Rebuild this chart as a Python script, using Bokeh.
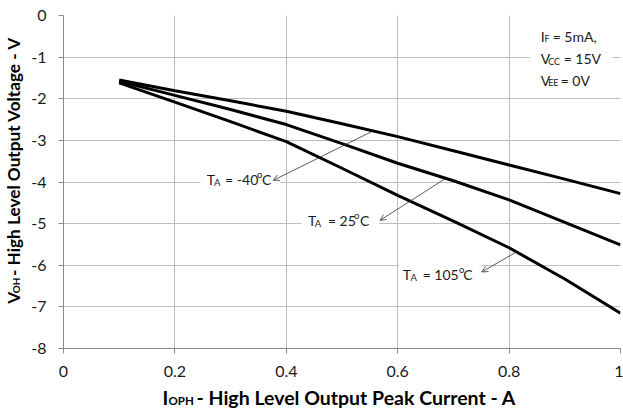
import math
from bokeh.plotting import figure
from bokeh.layouts import column, row
from bokeh.models import Range1d, FixedTicker, Label, Arrow, OpenHead
from bokeh.embed import file_html
from bokeh.resources import INLINE

# ---------------- data ----------------
current_a = [0.1, 0.2, 0.3, 0.4, 0.5, 0.6, 0.7, 0.8, 0.9, 1.0]
voh_m40 = [-1.55, -1.81, -2.05, -2.30, -2.60, -2.91, -3.25, -3.59, -3.93, -4.28]
voh_25 = [-1.58, -1.92, -2.26, -2.62, -3.08, -3.55, -3.97, -4.43, -4.97, -5.51]
voh_105 = [-1.62, -2.08, -2.55, -3.03, -3.67, -4.32, -4.94, -5.58, -6.33, -7.15]

x_ticks = [0, 0.2, 0.4, 0.6, 0.8, 1]
x_tick_labels = ["0", "0.2", "0.4", "0.6", "0.8", "1"]
y_ticks = [-8, -7, -6, -5, -4, -3, -2, -1, 0]
y_tick_labels = ["-8", "-7", "-6", "-5", "-4", "-3", "-2", "-1", "0"]

FONT = "Lato"
GRID = "#bdbdbd"
AXIS = "#8a8a8a"
TXT = "#1a1a1a"

# ---------------- layout sizes ----------------
TOTAL_W, TOTAL_H = 623, 412
YT_W = 28            # strip for the y-axis title
MAIN_H = 386         # main figure height
MAIN_W = TOTAL_W - YT_W
XT_H = TOTAL_H - MAIN_H
BL, BR, BT, BB = 34, 3, 15, 38
SHIFT = 6.0          # labels render a little below their alphabetic anchor

p = figure(width=MAIN_W, height=MAIN_H, output_backend="svg", toolbar_location=None,
           x_range=Range1d(0, 1), y_range=Range1d(-8, 0),
           min_border_left=BL, min_border_right=BR, min_border_top=BT, min_border_bottom=BB)
p.title = None
p.outline_line_color = None
p.background_fill_color = "white"
p.border_fill_color = "white"

for ax, ticks, labels in ((p.xaxis, x_ticks, x_tick_labels), (p.yaxis, y_ticks, y_tick_labels)):
    ax.ticker = FixedTicker(ticks=ticks)
    ax.major_label_overrides = dict(zip(ticks, labels))
    ax.axis_line_color = AXIS
    ax.major_tick_line_color = AXIS
    ax.minor_tick_line_color = None
    ax.major_tick_in = 0
    ax.major_tick_out = 5
    ax.major_label_text_font = FONT
    ax.major_label_text_font_size = "16px"
    ax.major_label_text_color = TXT
p.xaxis.major_label_standoff = 12
p.yaxis.major_label_standoff = 12

p.xgrid.ticker = FixedTicker(ticks=x_ticks)
p.ygrid.ticker = FixedTicker(ticks=y_ticks)
p.grid.grid_line_color = GRID
p.grid.grid_line_width = 1

# reference pixel -> data (keeps annotations tied to the curves)
def ref_xy(px, py):
    return (px - 61.7) / 558.3, -(py - 15.0) / (333.3 / 8.0)

# white boxes behind the annotation texts (interrupt the grid)
boxes = [(199, 279, 172, 192), (300, 378, 212, 234), (398, 481, 262, 287), (529, 612, 25, 92)]
lefts, rights, tops, bottoms = [], [], [], []
for x0, x1, y0, y1 in boxes:
    a = ref_xy(x0, y0)
    b = ref_xy(x1, y1)
    lefts.append(a[0]); rights.append(b[0]); tops.append(a[1]); bottoms.append(b[1])
p.quad(left=lefts, right=rights, top=tops, bottom=bottoms, fill_color="white", line_color=None)

for series in (voh_m40, voh_25, voh_105):
    p.line(current_a, series, line_width=3, line_color="black")

def txt(fig, mapper, x, y, s, size, bold=False, angle=0.0, color=TXT):
    if angle:
        x = x - SHIFT
    else:
        y = y - SHIFT
    dx, dy = mapper(x, y)
    fig.add_layout(Label(x=dx, y=dy, text=s, text_font=FONT, text_font_size=f"{size}px",
                         text_font_style="bold" if bold else "normal", text_color=color,
                         text_align="left", text_baseline="alphabetic", angle=angle))

# temperature annotations
ANN = 14
SUB = 9.5
txt(p, ref_xy, 205.3, 185.3, "T", ANN); txt(p, ref_xy, 212.5, 188.5, "A", SUB)
txt(p, ref_xy, 223.7, 185.3, "= -40", ANN)
txt(p, ref_xy, 255.7, 180.5, "o", SUB); txt(p, ref_xy, 260.7, 185.3, "C", ANN)
txt(p, ref_xy, 306.7, 226.0, "T", ANN); txt(p, ref_xy, 313.5, 229.0, "A", SUB)
txt(p, ref_xy, 326.7, 226.0, "= 25", ANN)
txt(p, ref_xy, 353.0, 221.0, "o", SUB); txt(p, ref_xy, 359.0, 226.0, "C", ANN)
txt(p, ref_xy, 401.7, 280.0, "T", ANN); txt(p, ref_xy, 409.5, 283.0, "A", SUB)
txt(p, ref_xy, 421.7, 280.0, "= 105", ANN)
txt(p, ref_xy, 458.0, 275.0, "o", SUB); txt(p, ref_xy, 462.5, 280.0, "C", ANN)

# conditions
txt(p, ref_xy, 540, 41.7, "I", ANN); txt(p, ref_xy, 543.8, 44.5, "F", 9)
txt(p, ref_xy, 552, 41.7, "= 5mA,", ANN)
txt(p, ref_xy, 540, 64.3, "V", ANN); txt(p, ref_xy, 547.5, 67.0, "CC", 9)
txt(p, ref_xy, 563, 64.3, "= 15V", ANN)
txt(p, ref_xy, 540, 85.7, "V", ANN); txt(p, ref_xy, 547.5, 88.5, "EE", 9)
txt(p, ref_xy, 560, 85.7, "= 0V", ANN)

# arrows from curves to labels
arrows = [((370, 131.5), (272, 180)), ((443.3, 179), (379, 220)), ((515, 252), (481, 271.7))]
for (sx, sy), (ex, ey) in arrows:
    a = ref_xy(sx, sy); b = ref_xy(ex, ey)
    p.add_layout(Arrow(x_start=a[0], y_start=a[1], x_end=b[0], y_end=b[1],
                       line_color="#333333", line_width=0.8,
                       end=OpenHead(size=6, line_color="#333333", line_width=0.8)))

# ---------------- axis titles (own strips, so that nothing is clipped) ----------------
def strip(w, h):
    f = figure(width=w, height=h, output_backend="svg", toolbar_location=None,
               x_range=Range1d(0, w), y_range=Range1d(0, h),
               x_axis_location=None, y_axis_location=None, min_border=0)
    f.title = None
    f.outline_line_color = None
    f.grid.visible = False
    f.background_fill_color = "white"
    f.border_fill_color = "white"
    return f

ytf = strip(YT_W, MAIN_H)
xtf = strip(TOTAL_W, XT_H)

def y_strip_xy(px, py):
    return px, MAIN_H - py

def x_strip_xy(px, py):
    return px, TOTAL_H - py

TS = 19.5
TSUB = 11.5
txt(xtf, x_strip_xy, 162, 403.0, "I", TS, bold=True, color="#000000")
txt(xtf, x_strip_xy, 168, 406.0, "OPH", TSUB, bold=True, color="#000000")
txt(xtf, x_strip_xy, 196, 403.0, "- High Level Output Peak Current - A", TS, bold=True, color="#000000")

YS = 17.2
YSUB = 9.8
rot = math.pi / 2
txt(ytf, y_strip_xy, 18.5, 334, "V", YS, bold=True, angle=rot, color="#000000")
txt(ytf, y_strip_xy, 21.0, 322, "OH", YSUB, bold=True, angle=rot, color="#000000")
txt(ytf, y_strip_xy, 18.5, 302, "- High Level Output Voltage - V", YS, bold=True, angle=rot, color="#000000")

layout = column(row(ytf, p), xtf)
open("out.html", "w").write(file_html(layout, INLINE))
